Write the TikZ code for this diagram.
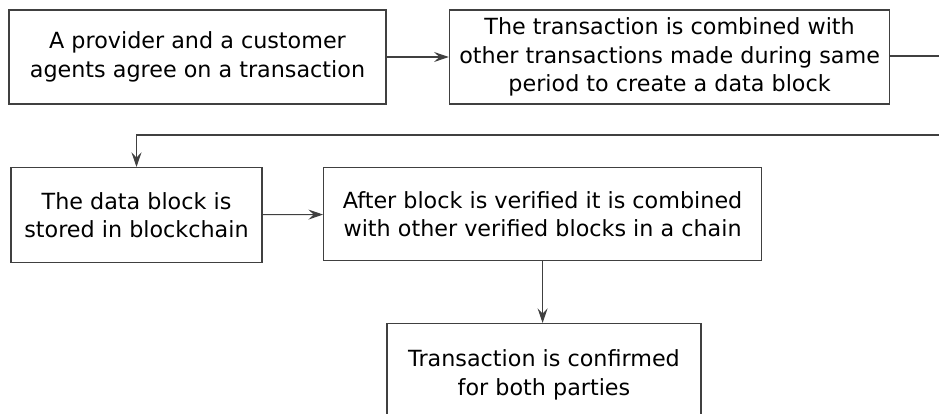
\documentclass[tikz,border=0pt]{standalone}
\usepackage{fontspec}
\setmainfont{DejaVu Sans}
\usetikzlibrary{arrows.meta}
\begin{document}
\begin{tikzpicture}[x=0.75pt, y=-0.75pt,
  stepbox/.style={draw=black!75, line width=0.8pt, align=center, inner sep=0pt,
    font=\fontsize{16.7}{21.3}\selectfont, text=black},
  link/.style={draw=black!75, line width=0.8pt},
  flow/.style={link, -{Stealth[length=11pt, width=7.5pt, inset=4pt]}}]
\clip (0,0) rectangle (939,414);
\fill[white] (0,0) rectangle (939,414);

\node[stepbox, minimum width=282.75pt, minimum height=70.5pt] (agree) at (197.5,57)
  {A provider and a customer\\agents agree on a transaction};
\node[stepbox, minimum width=330.5pt, minimum height=70.5pt] (combine) at (669.6,57)
  {The transaction is combined with\\other transactions made during same\\period to create a data block};
\node[stepbox, minimum width=188.25pt, minimum height=71.25pt] (store) at (136.5,215)
  {The data block is\\stored in blockchain};
\node[stepbox, minimum width=328.5pt, minimum height=69.75pt] (verify) at (542.6,214)
  {After block is verified it is combined\\with other verified blocks in a chain};
\node[stepbox, minimum width=235.5pt, minimum height=70.5pt, anchor=north] (confirm) at (544,323) {};
\node[font=\fontsize{16.7}{21.3}\selectfont, align=center, inner sep=0pt] (confirmtext) at (544,375)
  {Transaction is confirmed\\for both parties};

\coordinate (turnA) at (950,56);
\coordinate (turnB) at (950,135);

\draw[flow] (agree) -- (combine);
\draw[link] (combine.east |- 0,56) -- (turnA) -- (turnB);
\draw[flow] (turnB) -| (store.north);
\draw[flow] (store) -- (verify);
\draw[flow] (verify.south) -- (verify.south |- confirm.north);
\end{tikzpicture}
\end{document}
